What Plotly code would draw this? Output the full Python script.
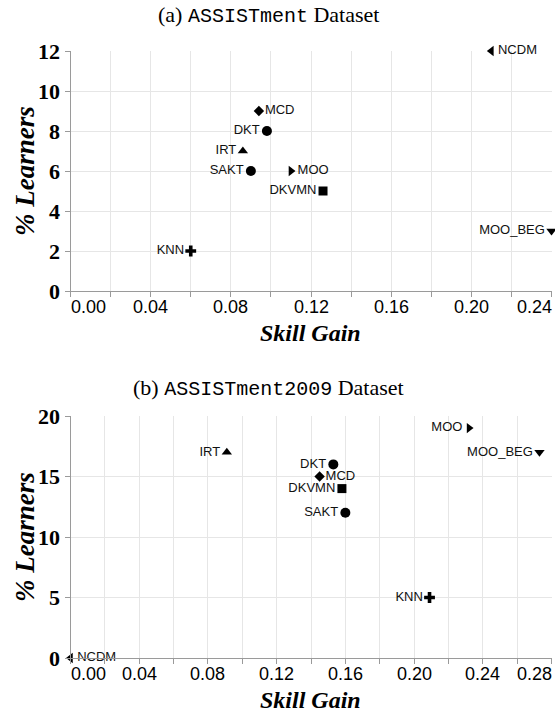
import plotly.graph_objects as go

# ---------------- data ----------------
models_a = ["NCDM", "MCD", "DKT", "IRT", "SAKT", "MOO", "DKVMN", "MOO_BEG", "KNN"]
gain_a = [0.21, 0.094, 0.098, 0.086, 0.09, 0.11, 0.126, 0.24, 0.06]
learners_a = [12, 9, 8, 7, 6, 6, 5, 3, 2]

models_b = ["MOO", "MOO_BEG", "IRT", "DKT", "MCD", "DKVMN", "SAKT", "KNN", "NCDM"]
gain_b = [0.232, 0.273, 0.091, 0.153, 0.145, 0.158, 0.16, 0.209, 0.0]
learners_b = [19, 17, 17, 16, 15, 14, 12, 5, 0]

xticks_a = [0.00, 0.04, 0.08, 0.12, 0.16, 0.20, 0.24]
xticks_b = [0.00, 0.04, 0.08, 0.12, 0.16, 0.20, 0.24, 0.28]
yticks_a = [0, 2, 4, 6, 8, 10, 12]
yticks_b = [0, 5, 10, 15, 20]

# ---------------- styles ----------------
symbol_map = {"NCDM": "triangle-left", "MCD": "diamond", "DKT": "circle", "IRT": "triangle-up",
              "SAKT": "circle", "MOO": "triangle-right", "DKVMN": "square",
              "MOO_BEG": "triangle-down", "KNN": "cross"}
size_map = {"NCDM": 9, "MCD": 8, "DKT": 10, "IRT": 9, "SAKT": 10, "MOO": 9, "DKVMN": 9,
            "MOO_BEG": 9, "KNN": 9}
pos_a = {"NCDM": "middle right", "MCD": "middle right", "DKT": "middle left", "IRT": "middle left",
         "SAKT": "middle left", "MOO": "middle right", "DKVMN": "middle left",
         "MOO_BEG": "middle left", "KNN": "middle left"}
pos_b = {"NCDM": "middle right", "MCD": "middle right", "DKT": "middle left", "IRT": "middle left",
         "SAKT": "middle left", "MOO": "middle left", "DKVMN": "middle left",
         "MOO_BEG": "middle left", "KNN": "middle left"}

SERIF = "Liberation Serif"
SANS = "Liberation Sans"
GRID = "#e6e6e6"
AXIS = "#9a9a9a"

W, H = 555, 715


def px(X):
    return X / W


def py(Y):
    return 1 - Y / H


fig = go.Figure()
fig.add_trace(go.Scatter(
    x=gain_a, y=learners_a, mode="markers+text", text=models_a,
    textposition=[pos_a[m] for m in models_a],
    textfont=dict(family=SANS, size=13, color="#111"),
    marker=dict(symbol=[symbol_map[m] for m in models_a], size=[size_map[m] for m in models_a],
                color="black", opacity=1, line=dict(width=0)),
    cliponaxis=False, showlegend=False, xaxis="x", yaxis="y"))
fig.add_trace(go.Scatter(
    x=gain_b, y=learners_b, mode="markers+text", text=models_b,
    textposition=[pos_b[m] for m in models_b],
    textfont=dict(family=SANS, size=13, color="#111"),
    marker=dict(symbol=[symbol_map[m] for m in models_b], size=[size_map[m] for m in models_b],
                color="black", opacity=1, line=dict(width=0)),
    cliponaxis=False, showlegend=False, xaxis="x2", yaxis="y2"))

xdom = [px(70.5), px(551.5)]
ydom_a = [py(291), py(51)]
ydom_b = [py(658), py(416)]


def xaxis_cfg(rng, anchor, dom):
    return dict(domain=dom, range=rng, anchor=anchor, dtick=0.02, tick0=0, tickmode="linear",
                showticklabels=False, ticks="outside", ticklen=5, tickcolor=AXIS,
                showgrid=True, gridcolor=GRID, gridwidth=1, zeroline=False, automargin=False,
                showline=True, linecolor=AXIS, linewidth=1, fixedrange=True)


def yaxis_cfg(rng, anchor, dom, tv):
    return dict(domain=dom, range=rng, anchor=anchor, tickvals=tv, tickmode="array",
                tickfont=dict(family=SERIF, size=22, color="black", weight="bold"),
                ticks="outside", ticklen=5, tickcolor=AXIS, automargin=False,
                showgrid=True, gridcolor=GRID, gridwidth=1, zeroline=False,
                showline=True, linecolor=AXIS, linewidth=1, fixedrange=True)


annotations = []


def xtick_labels(ticks, xref, yref):
    for i, t in enumerate(ticks):
        anchor = "left" if i == 0 else ("right" if i == len(ticks) - 1 else "center")
        shift = -2 if i == 0 else (2 if i == len(ticks) - 1 else 0)
        annotations.append(dict(x=t, y=0, xref=xref, yref=yref + " domain", text=f"{t:.2f}",
                                showarrow=False, xanchor=anchor, yanchor="top", yshift=-4,
                                xshift=shift,
                                font=dict(family=SANS, size=18, color="black")))


xtick_labels(xticks_a, "x", "y")
xtick_labels(xticks_b, "x2", "y2")

title_font = dict(family=SERIF, size=22, color="black")
for txt, ypix in [("(a) <span style='font-family:Liberation Mono;font-size:20px'>ASSISTment</span> Dataset", 15),
                  ("(b) <span style='font-family:Liberation Mono;font-size:20px'>ASSISTment2009</span> Dataset", 388)]:
    annotations.append(dict(x=px(268), y=py(ypix), xref="paper", yref="paper", text=txt,
                            showarrow=False, xanchor="center", yanchor="middle", font=title_font))

xc = (xdom[0] + xdom[1]) / 2
for ypix in [333, 700]:
    annotations.append(dict(x=xc, y=py(ypix), xref="paper", yref="paper", text="Skill Gain",
                            showarrow=False, xanchor="center", yanchor="middle",
                            font=dict(family=SERIF, size=24, color="black", weight="bold",
                                      style="italic")))
for dom in [ydom_a, ydom_b]:
    annotations.append(dict(x=px(25), y=(dom[0] + dom[1]) / 2, xref="paper", yref="paper",
                            text="% Learners", textangle=-90, showarrow=False,
                            xanchor="center", yanchor="middle",
                            font=dict(family=SERIF, size=27, color="black", weight="bold",
                                      style="italic")))

fig.update_layout(
    template="none",
    width=W, height=H, margin=dict(l=0, r=0, t=0, b=0, autoexpand=False),
    plot_bgcolor="white", paper_bgcolor="white",
    hovermode=False,
    xaxis=xaxis_cfg([0, 0.24], "y", xdom),
    yaxis=yaxis_cfg([0, 12], "x", ydom_a, yticks_a),
    xaxis2=xaxis_cfg([0, 0.28], "y2", xdom),
    yaxis2=yaxis_cfg([0, 20], "x2", ydom_b, yticks_b),
    annotations=annotations,
)

fig.write_html(
    "out.html",
    config={"displayModeBar": False, "staticPlot": True},
    post_script="document.body.style.margin='0';document.body.style.overflow='hidden';",
)
